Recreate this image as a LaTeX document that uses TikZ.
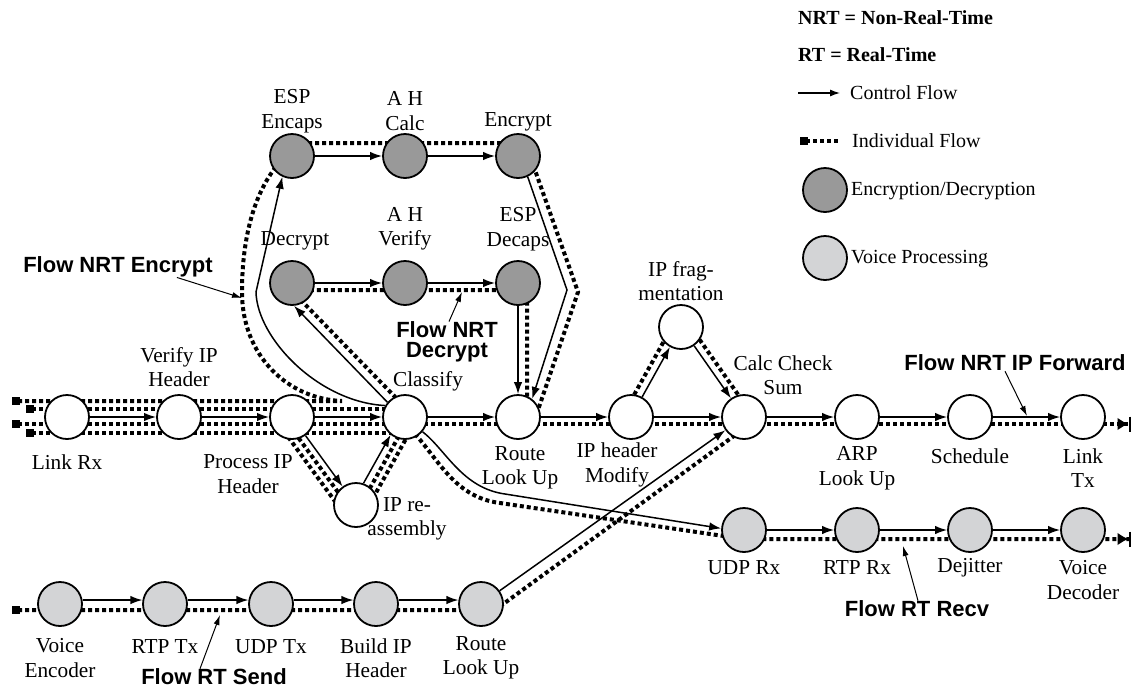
\documentclass[tikz,border=0pt]{standalone}
\usepackage{fontspec}
\setmainfont{Liberation Serif}
\newfontfamily\flowsans{Liberation Sans}
\usetikzlibrary{arrows.meta,calc}
\pgfdeclarelayer{bg}
\pgfsetlayers{bg,main}
\definecolor{encgray}{RGB}{153,153,153}
\definecolor{voicegray}{RGB}{211,212,214}
\newcommand{\lblfont}{\fontsize{21.3}{24.5}\selectfont}
\newcommand{\legfont}{\fontsize{20}{24}\selectfont}
\newcommand{\flowfont}{\flowsans\bfseries\fontsize{22}{20}\selectfont}
\begin{document}
\begin{tikzpicture}[x=1pt,y=-1pt,
  proc/.style={circle,draw,line width=1.8pt,minimum size=44pt,inner sep=0pt,fill=white},
  enc/.style={proc,fill=encgray},
  voc/.style={proc,fill=voicegray},
  lbl/.style={font=\lblfont,align=center,inner sep=0pt},
  leg/.style={font=\legfont,anchor=west,inner sep=0pt},
  flowlbl/.style={font=\flowfont,align=center,inner sep=0pt},
  ctrl/.style={line width=1.5pt,-{Latex[length=12pt,width=8.5pt]}},
  indiv/.style={line width=4pt,dash pattern=on 4pt off 3pt},
  ptr/.style={line width=1pt,-{Latex[length=10pt,width=6pt]}}]
\useasboundingbox (0,0) rectangle (1131,691);

% ---------- process nodes ----------
\node[proc] (lrx) at (67,417) {};
\node[proc] (vip) at (179,417) {};
\node[proc] (prc) at (292,417) {};
\node[proc] (cls) at (405,417) {};
\node[proc] (rlu) at (518,417) {};
\node[proc] (ipm) at (631,417) {};
\node[proc] (ccs) at (744,417) {};
\node[proc] (arp) at (857,417) {};
\node[proc] (sch) at (970,417) {};
\node[proc] (ltx) at (1083,417) {};
\node[proc] (frag) at (681,327) {};
\node[proc] (ras) at (356,505) {};
\node[enc] (espe) at (292,156) {};
\node[enc] (ahc) at (405,156) {};
\node[enc] (encr) at (518,156) {};
\node[enc] (dec) at (292,283) {};
\node[enc] (ahv) at (405,283) {};
\node[enc] (espd) at (518,283) {};
\node[voc] (udp) at (744,530) {};
\node[voc] (rtpr) at (857,530) {};
\node[voc] (dej) at (970,530) {};
\node[voc] (vdec) at (1083,530) {};
\node[voc] (venc) at (60,604) {};
\node[voc] (rtpt) at (165,604) {};
\node[voc] (udpt) at (271,604) {};
\node[voc] (bip) at (376,604) {};
\node[voc] (rls) at (481,604) {};

% ---------- labels ----------
\node[lbl] (espeT) at (292,111) {ESP\\Encaps};
\node[lbl] (ahcT) at (405,111) {A H\\Calc};
\node[lbl] (encrT) at (518,122) {Encrypt};
\node[lbl] (decT) at (295,241) {Decrypt};
\node[lbl] (ahvT) at (405,229) {A H\\Verify};
\node[lbl] (espdT) at (518,229) {ESP\\Decaps};
\node[lbl] (fragT) at (681,281) {IP frag-\\mentation};
\node[lbl] (ccsT) at (783,375) {Calc Check\\Sum};
\node[lbl] (vipT) at (179,367) {Verify IP\\Header};
\node[lbl] (lrxT) at (67,462) {Link Rx};
\node[lbl] (prcT) at (248,474) {Process IP\\Header};
\node[lbl] (clsT) at (428,381) {Classify};
\node[lbl] (rluT) at (520,468) {Route\\Look Up};
\node[lbl] (ipmT) at (617,465) {IP header\\Modify};
\node[lbl] (arpT) at (857,468) {ARP\\Look Up};
\node[lbl] (schT) at (970,456) {Schedule};
\node[lbl] (ltxT) at (1083,468) {Link\\Tx};
\node[lbl] (rasT) at (407,519) {IP re-\\assembly};
\node[lbl] (udpT) at (744,568) {UDP Rx};
\node[lbl] (rtprT) at (857,568) {RTP Rx};
\node[lbl] (dejT) at (970,568) {Dejitter};
\node[lbl] (vdecT) at (1083,580) {Voice\\Decoder};
\node[lbl] (vencT) at (60,658) {Voice\\Encoder};
\node[lbl] (rtptT) at (165,647) {RTP Tx};
\node[lbl] (udptT) at (271,647) {UDP Tx};
\node[lbl] (bipT) at (376,658) {Build IP\\Header};
\node[lbl] (rlsT) at (481,658) {Route\\Look Up};

% flow labels
\node[flowlbl] (fle) at (118,267) {Flow NRT Encrypt};
\node[flowlbl] (fld) at (447,342) {Flow NRT\\Decrypt};
\node[flowlbl] (flf) at (1015,363) {Flow NRT IP Forward};
\node[flowlbl] (flr) at (917,609) {Flow RT Recv};
\node[flowlbl] (fls) at (214,677) {Flow RT Send};

% legend
\node[leg] (lgnrt) at (798,18) {\textbf{NRT = Non-Real-Time}};
\node[leg] (lgrt) at (798,55) {\textbf{RT = Real-Time}};
\coordinate (lgc1) at (798,93);
\coordinate (lgc2) at (840,93);
\node[leg] (lgctl) at (850,93) {Control Flow};
\coordinate (lgi1) at (800,141);
\coordinate (lgi2) at (840,141);
\node[leg] (lgind) at (852,141) {Individual Flow};
\node[enc] (lgenc) at (825,190) {};
\node[leg] (lgencT) at (851,191) {Encryption/Decryption};
\node[voc] (lgvoc) at (825,258) {};
\node[leg] (lgvocT) at (851,259) {Voice Processing};

% coordinates
\coordinate (lsA) at (12,401);
\coordinate (lsB) at (26,409);
\coordinate (lsC) at (12,424);
\coordinate (lsD) at (26,433);
\coordinate (lsE) at (12,610);
\coordinate (endM) at (1131,424);
\coordinate (endR) at (1131,539);
\coordinate (pe2) at (242,298);
\coordinate (pd2) at (462,292);
\coordinate (pf2) at (1027,416);
\coordinate (pr2) at (903,546);
\coordinate (ps2) at (220,615);

% ---------- individual flows (behind nodes) ----------
\begin{pgfonlayer}{bg}
\draw[indiv,{Square[length=8pt,width=8pt]}-] (lgi1) -- (lgi2);
\draw[indiv,{Square[length=8pt,width=8pt]}-] (lsA) -- (342,401)
  .. controls (288,399) and (242,356) .. (242,292)
  .. controls (242,236) and (255,190) .. ($(espe)+(-12,6)$)
  -- ($(espe)+(0,-13)$) -- ($(encr)+(0,-13)$) -- ($(encr)+(12,0)$)
  -- (578,292) -- (538,410);
\draw[indiv,{Square[length=8pt,width=8pt]}-] (lsB) -- ($(cls)+(0,-8)$);
\draw[indiv,{Square[length=8pt,width=8pt]}-{Latex[length=11pt,width=13pt]Bar[width=15pt,line width=2.5pt]}] (lsC) -- (endM);
\draw[indiv,{Square[length=8pt,width=8pt]}-] (lsD) -- ($(cls)+(0,16)$);
\draw[indiv] ($(cls)+(-4,-14)$) -- ($(dec)+(2,10)$) -- ($(dec)+(0,7)$)
  -- ($(espd)+(0,7)$) -- ($(espd)+(9,0)$) -- ($(rlu)+(9,0)$);
\draw[indiv] ($(prc)+(-5.7,4.1)$) -- ($(ras)+(-5.7,4.1)$);
\draw[indiv] ($(prc)+(-12,8.7)$) -- ($(ras)+(-12,8.7)$);
\draw[indiv] ($(ras)+(3.5,1.9)$) -- ($(cls)+(3.5,1.9)$);
\draw[indiv] ($(ras)+(10,5.6)$) -- ($(cls)+(10,5.6)$);
\draw[indiv] ($(ipm)+(-7,-4)$) -- ($(frag)+(-7,-4)$);
\draw[indiv] ($(frag)+(6.5,-4.6)$) -- ($(ccs)+(6.5,-4.6)$);
\draw[indiv,-{Latex[length=11pt,width=13pt]Bar[width=15pt,line width=2.5pt]}]
  ($(cls)+(5,12)$) .. controls (437,455) and (452,497) .. (500,503)
  -- ($(udp)+(0,9)$) -- (endR);
\draw[indiv,{Square[length=8pt,width=8pt]}-] (lsE) -- ($(rls)+(14,6)$) -- ($(ccs)+(5,8)$);
\end{pgfonlayer}

% ---------- control flows ----------
\draw[ctrl,line width=1.2pt,-{Latex[length=10pt,width=7pt]}] (lgc1) -- (lgc2);
\draw[ctrl] (lrx) -- (vip);
\draw[ctrl] (vip) -- (prc);
\draw[ctrl] (prc) -- (cls);
\draw[ctrl] (cls) -- (rlu);
\draw[ctrl] (rlu) -- (ipm);
\draw[ctrl] (ipm) -- (ccs);
\draw[ctrl] (ccs) -- (arp);
\draw[ctrl] (arp) -- (sch);
\draw[ctrl] (sch) -- (ltx);
\draw[ctrl] (espe) -- (ahc);
\draw[ctrl] (ahc) -- (encr);
\draw[ctrl] (dec) -- (ahv);
\draw[ctrl] (ahv) -- (espd);
\draw[ctrl] (espd) -- (rlu);
\draw[ctrl] (encr.295) -- (567,290) -- (rlu.52);
\draw[ctrl] (cls.150) .. controls (318,402) and (257,338) .. (256,292) -- (espe.245);
\draw[ctrl] (cls.140) -- (dec.275);
\draw[ctrl] (prc) -- (ras);
\draw[ctrl] (ras.71) -- (cls.231);
\draw[ctrl] (ipm) -- (frag);
\draw[ctrl] (frag) -- (ccs);
\draw[ctrl] (rls) -- (ccs);
\draw[ctrl] (cls.-40) .. controls (446,450) and (462,488) .. (505,494) -- (udp.176);
\draw[ctrl] (udp) -- (rtpr);
\draw[ctrl] (rtpr) -- (dej);
\draw[ctrl] (dej) -- (vdec);
\draw[ctrl] (venc.10) -- (rtpt.170);
\draw[ctrl] (rtpt.10) -- (udpt.170);
\draw[ctrl] (udpt.10) -- (bip.170);
\draw[ctrl] (bip.10) -- (rls.170);

% pointers
\draw[ptr] ([xshift=-36pt]fle.south east) -- (pe2);
\draw[ptr] ([xshift=2pt]fld.north) -- (pd2);
\draw[ptr] ([xshift=-10pt]flf.south) -- (pf2);
\draw[ptr] ([xshift=1pt]flr.north) -- (pr2);
\draw[ptr] ([xshift=-14pt]fls.north) -- (ps2);
\end{tikzpicture}
\end{document}
